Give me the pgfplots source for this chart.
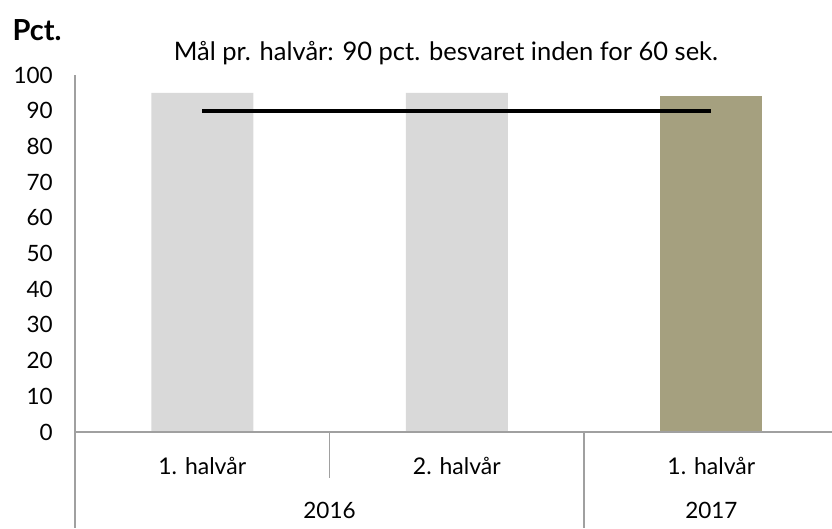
\documentclass[border=0pt]{standalone}
\usepackage{fontspec}
\setmainfont{Lato}
\usepackage{pgfplots}
\pgfplotsset{compat=1.18}
\definecolor{lg}{HTML}{D9D9D9}
\definecolor{ol}{HTML}{A5A07F}
\definecolor{axc}{HTML}{A0A0A0}
\begin{document}
\begin{tikzpicture}[x=1pt,y=1pt]
\useasboundingbox (-75,-96) rectangle (757,432);
\node[anchor=west,font=\fontsize{29}{33}\selectfont\bfseries] at (-66,402) {Pct.};
\node[font=\fontsize{25.5}{29}\selectfont] at (371,379) {Mål pr. halvår: 90 pct. besvaret inden for 60 sek.};
\begin{axis}[at={(0,0)}, anchor=south west, scale only axis,
  width=757pt, height=357pt,
  xmin=-0.5, xmax=2.474, ymin=0, ymax=100,
  ytick={0,10,...,100},
  xtick={0,1,2}, xticklabels={1. halvår, 2. halvår, 1. halvår},
  axis line style={draw=none}, major tick length=0pt,
  tick style={draw=none},
  /pgf/number format/assume math mode=true,
  yticklabel style={font=\fontsize{22.5}{25}\selectfont, anchor=east, inner sep=0pt, xshift=-22pt},
  xticklabel style={font=\fontsize{23}{26}\selectfont, anchor=center, inner sep=0pt, yshift=-34pt},
  clip=false]
\addplot[ybar, bar width=102pt, bar shift=0pt, fill=lg, draw=none] coordinates {(0,95) (1,95)};
\addplot[ybar, bar width=102pt, bar shift=0pt, fill=ol, draw=none] coordinates {(2,94)};
\addplot[black, line width=3.8pt, mark=none] coordinates {(0,90) (1,90) (2,90)};
\draw[axc, line width=1.2pt] (axis cs:-0.5,100) -- (axis cs:-0.5,0) -- ++(0pt,-96pt);
\draw[axc, line width=1.2pt] (axis cs:-0.5,0) -- (axis cs:2.474,0);
\draw[axc, line width=1.2pt] (axis cs:0.5,0) -- ++(0pt,-46pt);
\draw[axc, line width=1.2pt] (axis cs:1.5,0) -- ++(0pt,-96pt);
\node[font=\fontsize{22.5}{26}\selectfont] at ([yshift=-78pt]axis cs:0.5,0) {2016};
\node[font=\fontsize{22.5}{26}\selectfont] at ([yshift=-78pt]axis cs:2,0) {2017};
\end{axis}
\end{tikzpicture}
\end{document}
